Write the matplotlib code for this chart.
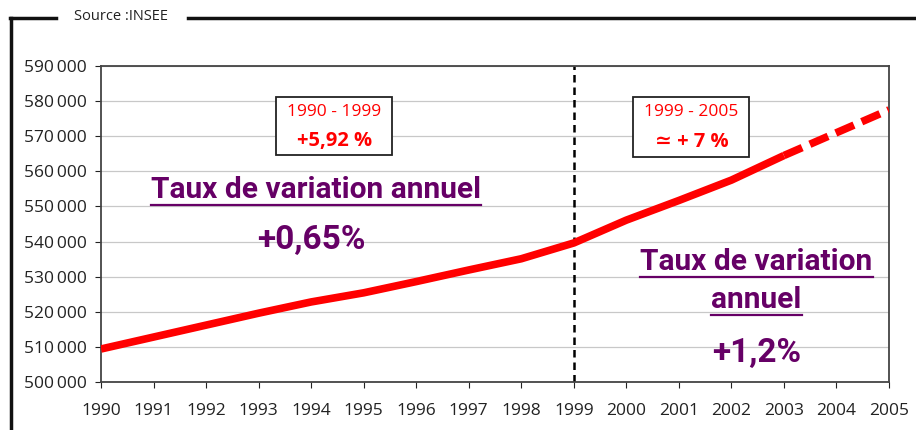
import matplotlib
matplotlib.use("Agg")
import matplotlib.pyplot as plt
from matplotlib.lines import Line2D
from matplotlib.patches import Rectangle
from matplotlib.ticker import FuncFormatter

annees = [1990, 1991, 1992, 1993, 1994, 1995, 1996, 1997, 1998, 1999,
          2000, 2001, 2002, 2003, 2004, 2005]
population = [509400, 512800, 516200, 519600, 522800, 525400, 528600, 531900, 535100, 539600,
              546100, 551700, 557500, 564500, 571000, 577500]
annee_fin_reelle = 2003
annee_coupure = 1999

plt.rcParams["font.family"] = ["Open Sans", "DejaVu Sans"]

W, H = 916, 430
fig = plt.figure(figsize=(W / 100, H / 100), dpi=100)
ax = fig.add_axes([101 / W, (H - 382) / H, 788 / W, 316 / H])

rouge = "#ff0000"
violet = "#660066"

i = annees.index(annee_fin_reelle)
ax.plot(annees[:i + 1], population[:i + 1], color=rouge, lw=5.5, solid_capstyle="butt", zorder=3)
ax.plot(annees[i:], population[i:], color=rouge, lw=5.5, dashes=(2.6, 1.1), zorder=3)
ax.axvline(annee_coupure, color="black", lw=1.8, ls=(0, (3, 2)), zorder=2)

ax.set_xlim(1990, 2005)
ax.set_ylim(500000, 590000)
ax.set_xticks(annees)
ax.set_yticks(range(500000, 590001, 10000))
ax.yaxis.set_major_formatter(FuncFormatter(lambda v, p: f"{int(v):,}".replace(",", "\u2009")))
ax.tick_params(axis="both", labelsize=12.5, colors="#222222", length=4, width=0.8)
ax.tick_params(axis="x", pad=11)
ax.tick_params(axis="y", pad=6)
ax.grid(axis="y", color="#c8c8c8", lw=0.9)
for s in ax.spines.values():
    s.set_color("#444444")
    s.set_linewidth(1.3)

# encadres rouges
ax.add_patch(Rectangle((1993.33, 564700), 2.21, 16500, fc="white", ec="#222222", lw=1.3, zorder=4))
ax.text(1994.44, 577000, "1990 - 1999", ha="center", va="center", fontsize=12.5,
        color=rouge, zorder=5)
ax.text(1994.44, 568700, "+5,92 %", ha="center", va="center", fontsize=14.5,
        color=rouge, fontweight="bold", zorder=5)
ax.add_patch(Rectangle((2000.13, 564100), 2.21, 17100, fc="white", ec="#222222", lw=1.3, zorder=4))
ax.text(2001.24, 577000, "1999 - 2005", ha="center", va="center", fontsize=12.5,
        color=rouge, zorder=5)
ax.text(2001.24, 568400, "\u2243 + 7 %", ha="center", va="center", fontsize=14.5,
        color=rouge, fontweight="bold", zorder=5)

# commentaires violets
narrow = ["Liberation Sans Narrow", "Roboto", "DejaVu Sans"]
t1 = ax.text(1994.1, 554800, "Taux de variation annuel", ha="center", va="center",
             fontsize=21.5, fontweight="bold", color=violet, family=narrow)
ax.text(1994.0, 540500, "+0,65%", ha="center", va="center", fontsize=24,
        fontweight="bold", color=violet, family=narrow)
t2 = ax.text(2002.48, 534300, "Taux de variation", ha="center", va="center",
             fontsize=21.5, fontweight="bold", color=violet, family=narrow)
t3 = ax.text(2002.48, 523400, "annuel", ha="center", va="center",
             fontsize=21.5, fontweight="bold", color=violet, family=narrow)
ax.text(2002.48, 508300, "+1,2%", ha="center", va="center", fontsize=24,
        fontweight="bold", color=violet, family=narrow)

# soulignement
fig.canvas.draw()
r = fig.canvas.get_renderer()
for t in (t1, t2, t3):
    bb = t.get_window_extent(r)
    y = (bb.y0 - 1) / H
    fig.add_artist(Line2D([bb.x0 / W, bb.x1 / W], [y, y], color=violet, lw=1.6))

# cadre "Source"
fig.add_artist(Line2D([11 / W, 11 / W], [0, (H - 18) / H], color="#111111", lw=2.5))
fig.add_artist(Line2D([10 / W, 56 / W], [(H - 18) / H] * 2, color="#111111", lw=2.5))
fig.add_artist(Line2D([188 / W, 1], [(H - 18) / H] * 2, color="#111111", lw=2.5))
fig.text(121 / W, (H - 17) / H, "Source :INSEE", ha="center", va="center", fontsize=10.5, color="#222222")

fig.savefig("out.png", dpi=100, facecolor="white")
